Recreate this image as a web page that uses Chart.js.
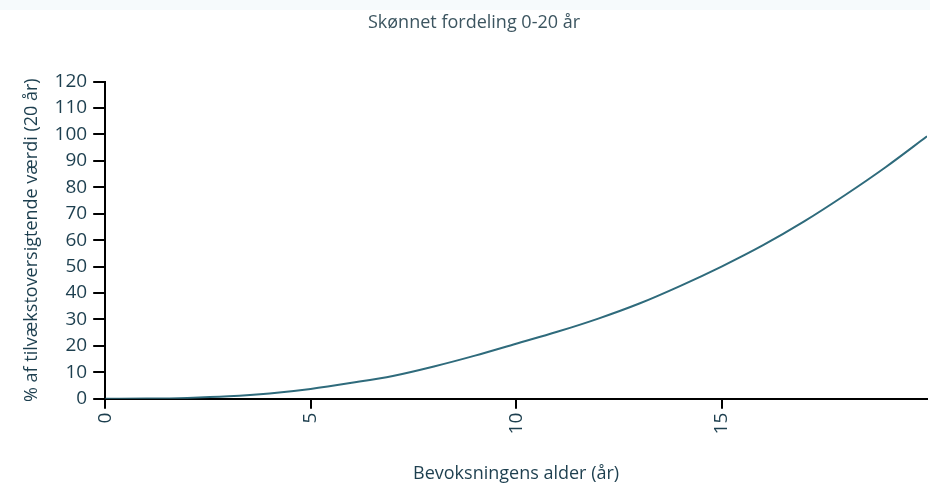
<!DOCTYPE html>
<html>
<head>
<meta charset="utf-8">
<script src="https://cdn.jsdelivr.net/npm/chart.js@4"></script>
<style>
  html, body { margin: 0; padding: 0; background: #fff; }
  .wrap { width: 930px; height: 485px; position: relative; }
  .strip { position: absolute; left: 0; top: 0; width: 930px; height: 10px; background: #f6fafc; }
</style>
</head>
<body>
<div class="wrap">
  <div class="strip"></div>
  <canvas id="fordelingChart" width="930" height="485"></canvas>
</div>
<script>
// Alder (år) og skønnet % af tilvækstoversigtende værdi
const ages = [0, 1, 2, 3, 4, 5, 6, 7, 8, 9, 10, 11, 12, 13, 14, 15, 16, 17, 18, 19, 20];
const percentValues = [0, 0.05, 0.3, 0.9, 2.0, 3.7, 6.0, 8.6, 12.2, 16.3, 20.8, 25.3, 30.3, 36.0, 42.7, 50.0, 58.0, 67.0, 77.0, 87.7, 99.3];
const xTicks = [0, 5, 10, 15];
const yTicks = [0, 10, 20, 30, 40, 50, 60, 70, 80, 90, 100, 110, 120];

const textColor = '#1d3f4f';
const fontFamily = "'Open Sans', 'DejaVu Sans', sans-serif";

const ctx = document.getElementById('fordelingChart').getContext('2d');

const data = {
    datasets: [
        {
            label: 'Skønnet fordeling',
            data: ages.map((a, i) => ({ x: a, y: percentValues[i] })),
            borderColor: '#2f6b7c',
            borderWidth: 2,
            pointRadius: 0,
            fill: false,
            cubicInterpolationMode: 'monotone'
        }
    ]
};

const config = {
    type: 'line',
    data: data,
    options: {
        responsive: false,
        animation: false,
        layout: { padding: { top: 12, right: 3, left: 21, bottom: 0 } },
        scales: {
            x: {
                type: 'linear',
                min: 0,
                max: 20,
                afterBuildTicks: function(axis) {
                    axis.ticks = xTicks.map(v => ({ value: v }));
                },
                grid: { drawOnChartArea: false, color: '#000', lineWidth: 2, tickLength: 10 },
                border: { color: '#000', width: 2 },
                ticks: {
                    minRotation: 90,
                    maxRotation: 90,
                    color: textColor,
                    padding: 4,
                    font: { family: fontFamily, size: 19 }
                },
                title: {
                    display: true,
                    text: 'Bevoksningens alder (år)',
                    color: textColor,
                    padding: { top: 25, bottom: 0 },
                    font: { family: fontFamily, size: 18 }
                }
            },
            y: {
                min: 0,
                max: 120,
                afterBuildTicks: function(axis) {
                    axis.ticks = yTicks.map(v => ({ value: v }));
                },
                grid: { drawOnChartArea: false, color: '#000', lineWidth: 2, tickLength: 12 },
                border: { color: '#000', width: 2 },
                ticks: {
                    color: textColor,
                    padding: 6,
                    font: { family: fontFamily, size: 19 }
                },
                title: {
                    display: true,
                    text: '% af tilvækstoversigtende værdi (20 år)',
                    color: textColor,
                    padding: { top: 0, bottom: 6 },
                    font: { family: fontFamily, size: 18 }
                }
            }
        },
        plugins: {
            legend: { display: false },
            tooltip: { enabled: false },
            title: {
                display: true,
                text: 'Skønnet fordeling 0-20 år',
                color: '#3c5560',
                padding: { top: 0, bottom: 48 },
                font: { family: fontFamily, size: 18, weight: 'normal' }
            }
        }
    }
};

const fordelingChart = new Chart(ctx, config);
</script>
</body>
</html>
